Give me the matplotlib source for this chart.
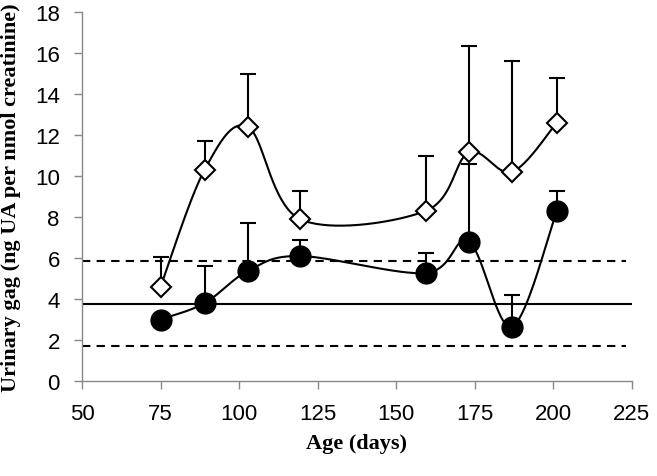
import numpy as np
import matplotlib
matplotlib.use("Agg")
import matplotlib.pyplot as plt

# ages (days) and urinary gag values
age = [75, 89, 102.8, 119.4, 159.4, 173.1, 186.8, 201.1]
treated = [4.6, 10.3, 12.4, 7.9, 8.3, 11.15, 10.2, 12.6]
treated_top = [6.05, 11.7, 15.0, 9.27, 11.0, 16.35, 15.6, 14.8]
control = [3.0, 3.8, 5.37, 6.1, 5.27, 6.8, 2.65, 8.3]
control_top = [3.0, 5.6, 7.7, 6.9, 6.24, 10.6, 4.2, 9.27]

mean_line = 3.75
low_line = 1.7
high_line = 5.85

xticks = [50, 75, 100, 125, 150, 175, 200, 225]
yticks = [0, 2, 4, 6, 8, 10, 12, 14, 16, 18]


def smooth(x, y, n=40):
    # excel-like smoothed line (cardinal bezier, tension 1/6)
    x = np.asarray(x, float)
    y = np.asarray(y, float)
    px, py = [], []
    for i in range(len(x) - 1):
        x0, y0 = (x[i - 1], y[i - 1]) if i > 0 else (x[i], y[i])
        x3, y3 = (x[i + 2], y[i + 2]) if i + 2 < len(x) else (x[i + 1], y[i + 1])
        c1x = x[i] + (x[i + 1] - x0) / 6
        c1y = y[i] + (y[i + 1] - y0) / 6
        c2x = x[i + 1] - (x3 - x[i]) / 6
        c2y = y[i + 1] - (y3 - y[i]) / 6
        t = np.linspace(0, 1, n)
        bx = (1-t)**3*x[i] + 3*(1-t)**2*t*c1x + 3*(1-t)*t**2*c2x + t**3*x[i+1]
        by = (1-t)**3*y[i] + 3*(1-t)**2*t*c1y + 3*(1-t)*t**2*c2y + t**3*y[i+1]
        px.extend(bx)
        py.extend(by)
    return px, py


fig = plt.figure(figsize=(6.57, 4.77), dpi=100)
ax = fig.add_axes([0.1248, 0.199, 0.837, 0.7737])

ax.axhline(mean_line, color="black", lw=1.5, zorder=1)
ax.axhline(low_line, color="black", lw=1.5, ls=(0, (4, 3)), xmax=0.99, zorder=1)
ax.axhline(high_line, color="black", lw=1.5, ls=(0, (4, 3)), xmax=0.99, zorder=1)

a = np.array(age)
for vals, tops in [(treated, treated_top), (control, control_top)]:
    v = np.array(vals)
    up = np.array(tops) - v
    ax.errorbar(a, v, yerr=[np.zeros_like(up), up], fmt="none", ecolor="black",
                elinewidth=1.5, capsize=6, capthick=1.5, zorder=2)

sx, sy = smooth(age, treated)
ax.plot(sx, sy, color="black", lw=1.5, zorder=3)
sx, sy = smooth(age, control)
ax.plot(sx, sy, color="black", lw=1.5, zorder=3)

ax.plot(age, treated, ls="none", marker="D", ms=10, mfc="white", mec="black",
        mew=1.5, zorder=4)
ax.plot(age, control, ls="none", marker="o", ms=15, mfc="black", mec="black",
        zorder=4)

ax.set_xlim(50, 225)
ax.set_ylim(0, 18)
ax.set_xticks(xticks)
ax.set_yticks(yticks)
for s in ["top", "right"]:
    ax.spines[s].set_visible(False)
for s in ["left", "bottom"]:
    ax.spines[s].set_color("#888888")
    ax.spines[s].set_linewidth(1)
ax.tick_params(direction="out", length=6, color="#888888", width=1,
               labelsize=16, pad=10)
for lab in ax.get_xticklabels() + ax.get_yticklabels():
    lab.set_family("Liberation Sans")

ax.set_xlabel("Age (days)", family="Liberation Serif", fontweight="bold",
              fontsize=16, labelpad=6)
ax.set_ylabel("Urinary gag (ng UA per nmol creatinine)", family="Liberation Serif",
              fontweight="bold", fontsize=16, labelpad=10)

fig.savefig("out.png", dpi=100)
